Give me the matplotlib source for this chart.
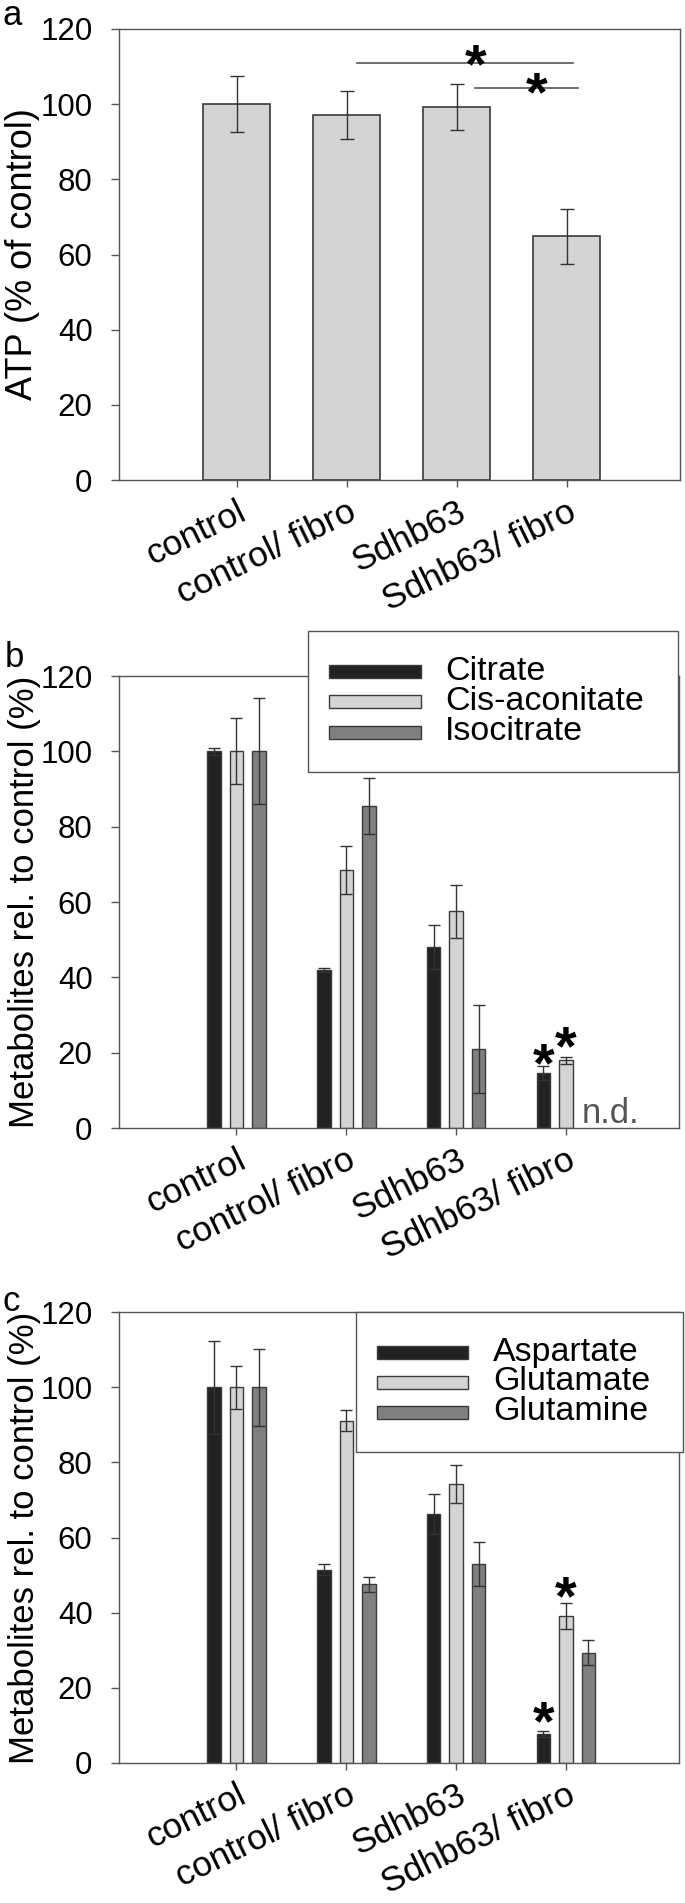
import numpy as np
import matplotlib
matplotlib.use("Agg")
import matplotlib.pyplot as plt
from matplotlib.patches import Rectangle

plt.rcParams['font.family'] = ['Liberation Sans', 'DejaVu Sans']

# ---- data ----
groups = ["control", "control/ fibro", "Sdhb63", "Sdhb63/ fibro"]

atp = [100, 97.0, 99.2, 64.8]
atp_err = [7.4, 6.4, 6.2, 7.3]

tca_names = ["Citrate", "Cis-aconitate", "Isocitrate"]
citrate = [100, 42.0, 48.1, 14.6]
citrate_err = [1.0, 0.6, 5.8, 1.8]
cis_aconitate = [100, 68.6, 57.5, 18.0]
cis_aconitate_err = [8.8, 6.4, 7.0, 0.9]
isocitrate = [100, 85.5, 20.9, np.nan]   # n.d. for Sdhb63/ fibro
isocitrate_err = [14.1, 7.5, 11.7, np.nan]

aa_names = ["Aspartate", "Glutamate", "Glutamine"]
aspartate = [100, 51.4, 66.2, 7.8]
aspartate_err = [12.4, 1.5, 5.3, 0.8]
glutamate = [100, 91.1, 74.3, 39.1]
glutamate_err = [5.7, 2.7, 5.0, 3.4]
glutamine = [100, 47.6, 52.9, 29.4]
glutamine_err = [10.2, 2.0, 5.8, 3.4]

bar_colors = ["#222222", "#d4d4d4", "#808080"]
edge = "#3a3a3a"
spine_col = "#555555"

W, H = 685, 1903
fig = plt.figure(figsize=(W / 100, H / 100), dpi=100)


def px_axes(l, t, r, b):
    return fig.add_axes([l / W, 1 - b / H, (r - l) / W, (b - t) / H])


def style(ax, ylabel, ylsize):
    ax.set_xlim(-1.07, 4.03)
    ax.set_ylim(0, 120)
    ax.set_yticks(range(0, 121, 20))
    ax.set_xticks(range(len(groups)))
    ax.set_xticklabels(groups, rotation=26, ha='right', va='top',
                       rotation_mode='anchor', fontsize=25.5)
    for s in ax.spines.values():
        s.set_color(spine_col)
        s.set_linewidth(1.0)
    ax.tick_params(axis='y', direction='out', length=6, width=1,
                   color=spine_col, labelsize=22.5, pad=13)
    ax.tick_params(axis='x', direction='out', length=5, width=1,
                   color=spine_col, pad=6)
    ax.set_ylabel(ylabel, fontsize=ylsize)
    ax.yaxis.set_label_coords(-0.14, 0.5)


def star(ax, x, y, size=40):
    # glyph centre placed on (x, y)
    ax.annotate("*", xy=(x, y), xytext=(0, -0.58 * size), textcoords='offset points',
                ha='center', va='baseline', fontsize=size, fontweight='bold',
                annotation_clip=False)


def legend_box(l, t, r, b, hx0, hx1, rows, tx, names):
    fig.add_artist(Rectangle((l / W, 1 - b / H), (r - l) / W, (b - t) / H,
                             transform=fig.transFigure, facecolor='white',
                             edgecolor=spine_col, lw=1.0))
    for yy, c, name in zip(rows, bar_colors, names):
        fig.add_artist(Rectangle((hx0 / W, 1 - (yy + 6.5) / H), (hx1 - hx0) / W, 13 / H,
                                 transform=fig.transFigure, facecolor=c,
                                 edgecolor=edge, lw=1.0))
        fig.text(tx / W, 1 - yy / H, name, fontsize=24.5, va='center', ha='left')


def grouped(ax, series, errs):
    x = np.arange(len(groups))
    offs = [-0.205, 0.0, 0.205]
    for k, (vals, err) in enumerate(zip(series, errs)):
        ax.bar(x + offs[k], vals, width=0.123, color=bar_colors[k],
               edgecolor=edge, linewidth=1.0, zorder=2)
        ax.errorbar(x + offs[k], vals, yerr=err, fmt='none', ecolor='#333333',
                    elinewidth=1.0, capsize=4.5, capthick=1.0, zorder=3)


# ---- panel a ----
ax_a = px_axes(119, 29, 680, 480)
xa = np.arange(len(groups))
ax_a.bar(xa, atp, width=0.61, color="#d4d4d4", edgecolor=edge, linewidth=1.2, zorder=2)
ax_a.errorbar(xa, atp, yerr=atp_err, fmt='none', ecolor='#333333',
              elinewidth=1.0, capsize=5, capthick=1.0, zorder=3)
ax_a.plot([1.09, 3.06], [111, 111], color='#555555', lw=1.2)
ax_a.plot([2.17, 3.10], [104.3, 104.3], color='#555555', lw=1.2)
star(ax_a, 2.17, 114.3)
star(ax_a, 2.73, 107.0)
style(ax_a, "ATP (% of control)", 26)
fig.text(3 / W, 1 - 25 / H, "a", fontsize=25, va='baseline')

# ---- panel b ----
ax_b = px_axes(119, 676, 679, 1128)
grouped(ax_b, [citrate, cis_aconitate, isocitrate],
        [citrate_err, cis_aconitate_err, isocitrate_err])
star(ax_b, 2.8, 21.0)
star(ax_b, 3.0, 25.5)
ax_b.text(3.14, 1.3, "n.d.", color='#555555', fontsize=25, ha='left', va='baseline')
style(ax_b, "Metabolites rel. to control (%)", 25)
fig.text(5 / W, 1 - 667 / H, "b", fontsize=25, va='baseline')
legend_box(308, 631, 678, 772, 329, 421, [671, 701, 732], 445, tca_names)

# ---- panel c ----
ax_c = px_axes(119, 1312, 679, 1763)
grouped(ax_c, [aspartate, glutamate, glutamine],
        [aspartate_err, glutamate_err, glutamine_err])
star(ax_c, 2.8, 14.9)
star(ax_c, 3.0, 48.2)
style(ax_c, "Metabolites rel. to control (%)", 25)
fig.text(2 / W, 1 - 1311 / H, "c", fontsize=25, va='baseline')
legend_box(356, 1312, 683, 1452, 377, 468, [1352, 1382, 1412], 493, aa_names)

fig.savefig("out.png", dpi=100)
